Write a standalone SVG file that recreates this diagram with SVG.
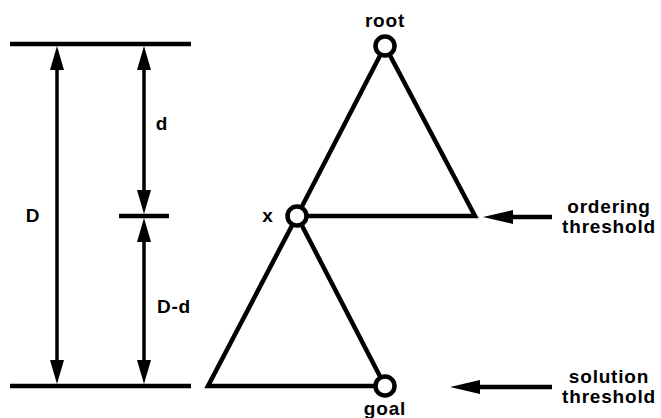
<svg xmlns="http://www.w3.org/2000/svg" width="661" height="418" viewBox="0 0 661 418">
<style>
.t{font-family:"Liberation Sans",Arial,sans-serif;font-weight:bold;font-size:19px;letter-spacing:0.8px;fill:#000}
.l{stroke:#000;stroke-width:4.5;fill:none}
.a{stroke:#000;stroke-width:3.5;fill:none}
.n{stroke:#000;stroke-width:4.5;fill:#fff}
</style>
<defs>
<marker id="av" markerUnits="userSpaceOnUse" markerWidth="24" markerHeight="14" refX="10" refY="7" orient="auto-start-reverse" overflow="visible">
<path d="M0,0 L24,7 L0,14 z" fill="#000"/>
</marker>
<marker id="ah" markerUnits="userSpaceOnUse" markerWidth="30" markerHeight="14" refX="10" refY="7" orient="auto" overflow="visible">
<path d="M0,0 L30,7 L0,14 z" fill="#000"/>
</marker>
</defs>
<g id="levels">
<line class="l" x1="10" y1="44" x2="191" y2="44"/>
<line class="l" x1="10" y1="386" x2="191" y2="386"/>
<line class="l" x1="119" y1="216" x2="169" y2="216"/>
</g>
<g id="connectors">
<line class="a" x1="57" y1="60" x2="57" y2="370" marker-start="url(#av)" marker-end="url(#av)"/>
<line class="a" x1="144" y1="60" x2="144" y2="200" marker-start="url(#av)" marker-end="url(#av)"/>
<line class="a" x1="144" y1="232" x2="144" y2="370" marker-start="url(#av)" marker-end="url(#av)"/>
<line class="l" x1="552" y1="217" x2="503" y2="217" marker-end="url(#ah)"/>
<line class="l" x1="552" y1="387" x2="470" y2="387" marker-end="url(#ah)"/>
</g>
<g id="tree-top">
<path class="l" d="M385,46 L297,216 M385,46 L475,216 L297,216"/>
</g>
<g id="tree-bottom">
<path class="l" d="M297,216 L208,386 L385,386 M297,216 L385,386"/>
</g>
<g id="root"><circle class="n" cx="385" cy="46" r="9.5"/><text class="t" x="385" y="27" text-anchor="middle">root</text></g>
<g id="x"><circle class="n" cx="297" cy="216" r="9.5"/><text class="t" x="268" y="222" text-anchor="middle">x</text></g>
<g id="goal"><circle class="n" cx="385" cy="386" r="9.5"/><text class="t" x="385" y="415" text-anchor="middle">goal</text></g>
<g id="labels">
<text class="t" x="33" y="222" text-anchor="middle">D</text>
<text class="t" x="162" y="130" text-anchor="middle">d</text>
<text class="t" x="174" y="313" text-anchor="middle">D-d</text>
<text class="t" x="609" y="213" text-anchor="middle">ordering</text>
<text class="t" x="609" y="233" text-anchor="middle">threshold</text>
<text class="t" x="609" y="383" text-anchor="middle">solution</text>
<text class="t" x="609" y="403" text-anchor="middle">threshold</text>
</g>
</svg>
